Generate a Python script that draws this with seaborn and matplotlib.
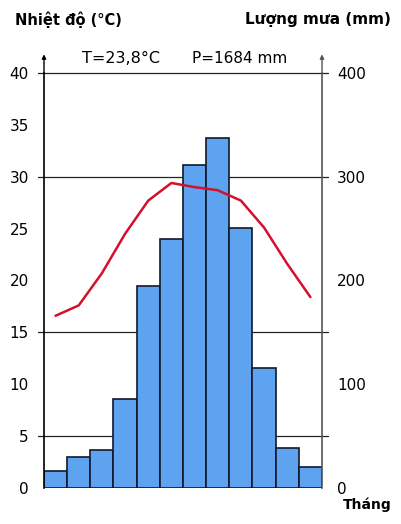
import matplotlib
matplotlib.use("Agg")
import matplotlib.pyplot as plt
import numpy as np
import pandas as pd
import seaborn as sns

# climate data
months = ["1", "2", "3", "4", "5", "6", "7", "8", "9", "10", "11", "12"]
rain = [16, 30, 37, 86, 195, 240, 311, 337, 251, 116, 39, 20]
temp = [16.6, 17.6, 20.7, 24.5, 27.7, 29.4, 29.0, 28.7, 27.7, 25.1, 21.6, 18.4]
temp_ticks = [0, 5, 10, 15, 20, 25, 30, 35, 40]
rain_ticks = [0, 100, 200, 300, 400]
grid_vals = [5, 15, 30, 40]

df = pd.DataFrame({"month": months, "rain": rain, "temp": temp})
df["pos"] = np.arange(len(months))

sns.set_style("white")
plt.rcParams["font.family"] = ["DejaVu Sans"]
plt.rcParams["text.color"] = "black"
plt.rcParams["xtick.color"] = "black"
plt.rcParams["ytick.color"] = "black"

fig = plt.figure(figsize=(4.01, 5.24), dpi=100)
ax = fig.add_axes([0.1097, 0.0687, 0.6933, 0.792])
ax2 = ax.twinx()

# rain bars on the right axis
sns.barplot(data=df, x="month", y="rain", ax=ax2, color="#5ea3f0",
            edgecolor="#10182a", linewidth=1.2, width=1.0, saturation=1)
ax2.set_ylim(0, 400)
ax2.set_xlim(-0.5, 11.5)

# temperature line on the left axis, drawn on top
ax.set_zorder(ax2.get_zorder() + 1)
ax.patch.set_visible(False)
sns.lineplot(data=df, x="pos", y="temp", ax=ax, color="#d4102a", linewidth=1.8)
ax.set_ylim(0, 40)
ax.set_xlim(-0.5, 11.5)

for v in grid_vals:
    ax2.axhline(v * 10, xmin=-0.02, xmax=1.02, color="#222222", linewidth=0.9,
                clip_on=False, zorder=0.5)

ax.set_yticks(temp_ticks)
ax.set_yticklabels([str(t) for t in temp_ticks], fontsize=11)
ax.tick_params(axis="y", length=0, pad=11, labelcolor="black")
ax2.set_yticks(rain_ticks)
ax2.set_yticklabels([str(t) for t in rain_ticks], fontsize=11)
ax2.tick_params(axis="y", length=0, pad=11, labelcolor="black")

ax2.set_xticks(df["pos"])
ax2.set_xticklabels(months, fontsize=11)
ax.set_xticks([])
ax2.tick_params(axis="x", length=0, pad=9, labelcolor="black")

ax.set_xlabel("")
ax.set_ylabel("")
ax2.set_xlabel("")
ax2.set_ylabel("")

for a in (ax, ax2):
    a.spines["top"].set_visible(False)
    a.spines["bottom"].set_visible(False)
ax.spines["left"].set_color("black")
ax.spines["right"].set_visible(False)
ax2.spines["left"].set_visible(False)
ax2.spines["right"].set_color("#555555")
ax.spines["left"].set_linewidth(1.2)
ax2.spines["right"].set_linewidth(1.2)

# arrows on top of the two axes
for xa, col in [(0, "black"), (1, "#555555")]:
    ax.annotate("", xy=(xa, 1.045), xytext=(xa, 1.0), xycoords="axes fraction",
                arrowprops=dict(arrowstyle="-|>", color=col, lw=1.0,
                                mutation_scale=6, shrinkA=0, shrinkB=0),
                annotation_clip=False)

fig.text(0.037, 0.962, "Nhiệt độ (°C)", fontsize=10.5, fontweight="bold",
         va="center", ha="left", color="black")
fig.text(0.975, 0.962, "Lượng mưa (mm)", fontsize=11, fontweight="bold",
         va="center", ha="right", color="black")
fig.text(0.205, 0.889, "T=23,8°C", fontsize=11.5, va="center", ha="left",
         color="black")
fig.text(0.48, 0.889, "P=1684 mm", fontsize=11, va="center", ha="left",
         color="black")
fig.text(0.855, 0.036, "Tháng", fontsize=10, fontweight="bold",
         va="center", ha="left", color="black")

fig.savefig("out.png", dpi=100)
